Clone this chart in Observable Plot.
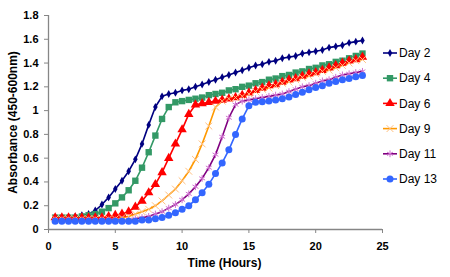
<!DOCTYPE html>
<html><head><meta charset="utf-8">
<script src="https://cdn.jsdelivr.net/npm/d3@7"></script>
<script src="https://cdn.jsdelivr.net/npm/@observablehq/plot@0.6"></script>
<style>
body{margin:0;background:#fff;}
#wrap{position:relative;width:450px;height:277px;font-family:"Liberation Sans",Arial,sans-serif;}
#legend{position:absolute;left:0;top:0;pointer-events:none;}
</style></head><body><div id="wrap"></div>
<script>
const hours = [0.5,1,1.5,2,2.5,3,3.5,4,4.5,5,5.5,6,6.5,7,7.5,8,8.5,9,9.5,10,10.5,11,11.5,12,12.5,13,13.5,14,14.5,15,15.5,16,16.5,17,17.5,18,18.5,19,19.5,20,20.5,21,21.5,22,22.5,23,23.5];
const day2  = [0.10,0.10,0.10,0.11,0.12,0.13,0.16,0.21,0.27,0.34,0.41,0.49,0.59,0.72,0.88,1.03,1.12,1.14,1.15,1.17,1.18,1.20,1.22,1.24,1.26,1.28,1.30,1.32,1.34,1.36,1.38,1.39,1.41,1.42,1.44,1.45,1.46,1.48,1.49,1.50,1.51,1.53,1.54,1.55,1.57,1.58,1.59];
const day4  = [0.10,0.10,0.10,0.10,0.11,0.12,0.13,0.15,0.18,0.22,0.27,0.33,0.41,0.52,0.65,0.79,0.93,1.03,1.07,1.08,1.09,1.10,1.11,1.13,1.14,1.15,1.17,1.18,1.20,1.21,1.23,1.24,1.26,1.27,1.29,1.30,1.32,1.33,1.35,1.36,1.38,1.39,1.41,1.42,1.44,1.46,1.48];
const day6  = [0.10,0.10,0.10,0.10,0.10,0.10,0.10,0.10,0.11,0.12,0.13,0.15,0.19,0.24,0.31,0.38,0.48,0.60,0.72,0.84,0.97,1.05,1.06,1.07,1.08,1.09,1.10,1.11,1.13,1.15,1.17,1.19,1.21,1.22,1.24,1.26,1.27,1.29,1.31,1.32,1.34,1.36,1.38,1.40,1.42,1.43,1.45];
const day9  = [0.09,0.09,0.09,0.09,0.09,0.09,0.09,0.09,0.09,0.09,0.10,0.11,0.13,0.15,0.17,0.20,0.24,0.29,0.34,0.41,0.49,0.59,0.72,0.87,1.03,1.08,1.10,1.11,1.12,1.14,1.16,1.18,1.19,1.21,1.23,1.24,1.26,1.28,1.29,1.31,1.33,1.34,1.36,1.38,1.40,1.42,1.43];
const day11 = [0.08,0.08,0.08,0.08,0.08,0.08,0.08,0.08,0.08,0.08,0.08,0.08,0.09,0.10,0.11,0.13,0.15,0.18,0.21,0.25,0.30,0.36,0.43,0.52,0.63,0.78,0.94,1.05,1.08,1.09,1.10,1.11,1.12,1.13,1.14,1.16,1.18,1.20,1.21,1.23,1.25,1.26,1.28,1.30,1.31,1.32,1.33];
const day13 = [0.07,0.07,0.07,0.07,0.07,0.07,0.07,0.07,0.07,0.07,0.07,0.07,0.07,0.08,0.08,0.09,0.10,0.12,0.14,0.17,0.20,0.25,0.31,0.38,0.47,0.56,0.67,0.80,0.93,1.04,1.07,1.075,1.08,1.09,1.10,1.115,1.135,1.155,1.175,1.195,1.21,1.23,1.245,1.26,1.27,1.285,1.295];
const seriesNames = ["Day 2","Day 4","Day 6","Day 9","Day 11","Day 13"];
const seriesValues = [day2, day4, day6, day9, day11, day13];
const yTicks = [0,0.2,0.4,0.6,0.8,1,1.2,1.4,1.6,1.8];
const xTicks = [0,5,10,15,20,25];

const styles = [
  {line:"#000080", symbol:"diamond", fill:"#000080", stroke:"none", r:2.4},
  {line:"#339966", symbol:"square", fill:"#339966", stroke:"none", r:3.6},
  {line:"#ff0000", symbol:"triangle", fill:"#ff0000", stroke:"none", r:3.5},
  {line:"#ff9900", symbol:"times", fill:"none", stroke:"#ffc080", r:3.2},
  {line:"#800080", symbol:"asterisk", fill:"none", stroke:"#d070d0", r:3.2},
  {line:"#3366ff", symbol:"circle", fill:"#3366ff", stroke:"none", r:3.5}
];

const tables = seriesValues.map(vals => hours.map((t,i) => ({t, v: vals[i]})));
const fmt = d => String(+d.toFixed(1));
const grey = "#868686";

const marks = [
  Plot.axisY({ticks: yTicks, text: null, tickSize: 4, stroke: grey, label: null}),
  Plot.axisY({ticks: yTicks, tickSize: 0, tickPadding: 10, tickFormat: fmt, label: null}),
  Plot.axisX({ticks: xTicks, text: null, tickSize: 4, stroke: grey, label: null}),
  Plot.axisX({ticks: xTicks, tickSize: 0, tickPadding: 13, tickFormat: d => String(d), label: null}),
  Plot.ruleY([0], {stroke: grey, strokeWidth: 1.3}),
  Plot.ruleX([0], {stroke: grey, strokeWidth: 1.3}),
  Plot.text(["Absorbance (450-600nm)"], {frameAnchor: "left", rotate: -90, dx: -35, textAnchor: "middle", lineAnchor: "middle", fontSize: 12, fontWeight: "bold"}),
  Plot.text(["Time (Hours)"], {frameAnchor: "bottom", dx: 9, dy: 34, lineAnchor: "middle", fontSize: 12, fontWeight: "bold"})
];
tables.forEach((tab, k) => {
  const s = styles[k];
  marks.push(Plot.line(tab, {x: "t", y: "v", stroke: s.line, strokeWidth: 1.6}));
});
tables.forEach((tab, k) => {
  const s = styles[k];
  marks.push(Plot.dot(tab, {x: "t", y: "v", symbol: s.symbol, fill: s.fill, stroke: s.stroke, r: s.r, strokeWidth: 1}));
});

const chart = Plot.plot({
  width: 450, height: 277,
  marginLeft: 48, marginRight: 68, marginTop: 15, marginBottom: 48,
  x: {domain: [0, 25]},
  y: {domain: [0, 1.8]},
  style: {fontFamily: "'Liberation Sans', Arial, sans-serif", fontSize: "11px", fontWeight: "bold", background: "#fff", color: "#000"},
  marks
});
const wrap = document.getElementById("wrap");
wrap.appendChild(chart);

// legend overlay
const leg = d3.select(wrap).append("svg").attr("id", "legend").attr("width", 450).attr("height", 277);
const symMap = {diamond: d3.symbolDiamond, square: d3.symbolSquare, triangle: d3.symbolTriangle, times: d3.symbolTimes, asterisk: d3.symbolAsterisk, circle: d3.symbolCircle};
seriesNames.forEach((name, k) => {
  const s = styles[k];
  const g = leg.append("g").attr("transform", `translate(390,${53 + k * 25.2})`);
  g.append("line").attr("x1", -7).attr("x2", 7).attr("stroke", s.line).attr("stroke-width", 1.6);
  g.append("path").attr("d", d3.symbol(symMap[s.symbol], Math.PI * s.r * s.r)())
    .attr("fill", s.fill).attr("stroke", s.stroke);
  g.append("text").attr("x", 9).attr("dy", "0.35em").attr("font-size", 12)
    .attr("font-family", "'Liberation Sans', Arial, sans-serif").text(name);
});
</script></body></html>
